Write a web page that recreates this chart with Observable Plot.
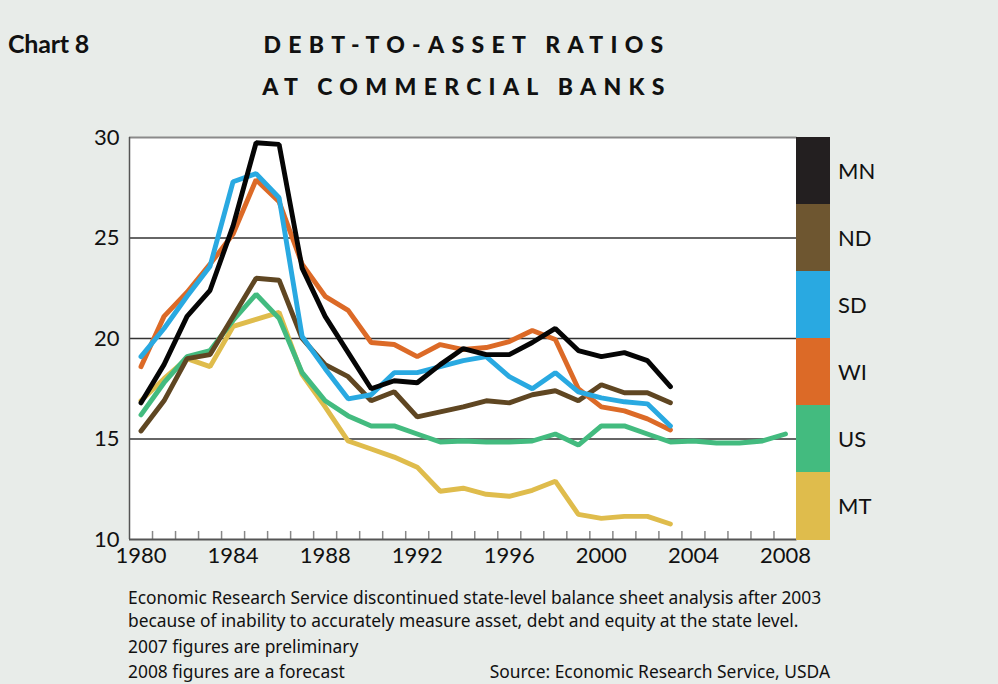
<!DOCTYPE html>
<html>
<head>
<meta charset="utf-8">
<script src="https://cdn.jsdelivr.net/npm/d3@7"></script>
<script src="https://cdn.jsdelivr.net/npm/@observablehq/plot@0.6"></script>
<style>
  html, body { margin: 0; padding: 0; background: #e8ece9; }
  #wrap { position: relative; width: 998px; height: 684px; background: #e8ece9; font-family: Lato, "Noto Sans", sans-serif; color: #111; overflow: hidden; }
  .abs { position: absolute; white-space: nowrap; }
  #chartno { left: 8px; top: 28px; font-size: 25px; font-weight: 700; letter-spacing: -0.2px; }
  .title { left: 0; width: 934px; text-align: center; font-size: 23px; font-weight: 900; letter-spacing: 7.3px; }
  #t1 { top: 30px; }
  #t2 { top: 72px; }
  #plot { position: absolute; left: 0; top: 120px; }
  .cap { left: 128px; font-size: 17.4px; line-height: 1.2; font-family: "Noto Sans", Lato, sans-serif; }
  .leg { position: absolute; left: 796px; width: 34px; }
  .legl { position: absolute; left: 838px; font-size: 22px; }
</style>
</head>
<body>
<div id="wrap">
  <div class="abs" id="chartno">Chart 8</div>
  <div class="abs title" id="t1">DEBT-TO-ASSET RATIOS</div>
  <div class="abs title" id="t2">AT COMMERCIAL BANKS</div>
  <div id="plot"></div>
  <div id="legend"></div>
  <div class="abs cap" style="top:587px">Economic Research Service discontinued state-level balance sheet analysis after 2003</div>
  <div class="abs cap" style="top:610px">because of inability to accurately measure asset, debt and equity at the state level.</div>
  <div class="abs cap" style="top:636px">2007 figures are preliminary</div>
  <div class="abs cap" style="top:661px">2008 figures are a forecast</div>
  <div class="abs cap" style="top:661px; left:auto; right:168px">Source: Economic Research Service, USDA</div>
</div>
<script>
// ---- data ----
const stateYears = d3.range(1980, 2004);
const usYears = d3.range(1980, 2009);
const MN = [16.8, 18.7, 21.1, 22.4, 25.6, 29.74, 29.66, 23.5, 21.1, 19.3, 17.5, 17.9, 17.8, 18.7, 19.5, 19.2, 19.2, 19.8, 20.5, 19.4, 19.1, 19.3, 18.9, 17.6];
const ND = [15.4, 16.9, 19.0, 19.2, 21.1, 23.0, 22.9, 20.0, 18.7, 18.1, 16.9, 17.35, 16.1, 16.35, 16.6, 16.9, 16.8, 17.2, 17.4, 16.9, 17.7, 17.3, 17.3, 16.8];
const SD = [19.1, 20.5, 22.1, 23.6, 27.8, 28.2, 27.0, 20.1, 18.5, 17.0, 17.2, 18.3, 18.3, 18.6, 18.9, 19.1, 18.1, 17.5, 18.3, 17.35, 17.05, 16.85, 16.75, 15.65];
const WI = [18.6, 21.1, 22.3, 23.7, 25.2, 27.9, 26.8, 23.7, 22.1, 21.4, 19.8, 19.7, 19.1, 19.7, 19.45, 19.55, 19.85, 20.4, 19.95, 17.5, 16.6, 16.4, 16.0, 15.45];
const US = [16.2, 17.8, 19.1, 19.4, 20.9, 22.2, 21.0, 18.3, 16.9, 16.15, 15.65, 15.65, 15.25, 14.85, 14.9, 14.85, 14.85, 14.9, 15.25, 14.7, 15.65, 15.65, 15.25, 14.85, 14.9, 14.8, 14.8, 14.9, 15.25];
const MT = [16.9, 18.0, 19.0, 18.6, 20.6, 20.95, 21.3, 18.2, 16.6, 14.9, 14.5, 14.1, 13.6, 12.4, 12.55, 12.25, 12.15, 12.45, 12.9, 11.25, 11.05, 11.15, 11.15, 10.77];

const legendOrder = ["MN", "ND", "SD", "WI", "US", "MT"];
const legendColors = ["#231f20", "#6e5630", "#29a9e1", "#dc6a27", "#43bb7f", "#dfbc4c"];
const lineColors = ["#050505", "#5f4622", "#29a9e1", "#dc6a27", "#43bb7f", "#dfbc4c"];
const xTickLabels = [1980, 1984, 1988, 1992, 1996, 2000, 2004, 2008];
const yTickLabels = [10, 15, 20, 25, 30];
const gridValues = [15, 20, 25];
const minorTicks = d3.range(1980.5, 2008, 1);

// ---- table ----
const seriesMap = {MN, ND, SD, WI, US, MT};
const drawOrder = ["MT", "US", "ND", "WI", "SD", "MN"];
const rows = [];
for (const s of drawOrder) {
  const yrs = s === "US" ? usYears : stateYears;
  seriesMap[s].forEach((v, i) => rows.push({state: s, year: yrs[i], value: v}));
}

const chart = Plot.plot({
  width: 998,
  height: 450,
  marginLeft: 129,
  marginRight: 201.5,
  marginTop: 17,
  marginBottom: 31,
  style: {background: "transparent", fontFamily: "Lato, 'Noto Sans', sans-serif", fontSize: "22px", color: "#111"},
  x: {domain: [1979.5, 2008.5], axis: null},
  y: {domain: [10, 30], axis: null},
  color: {domain: legendOrder, range: lineColors},
  marks: [
    Plot.frame({fill: "white", stroke: null}),
    Plot.ruleY(gridValues, {stroke: "#333", strokeWidth: 1.3}),
    Plot.ruleY([30], {stroke: "#8a8a8a", strokeWidth: 2}),
    Plot.ruleX(minorTicks, {y1: 10, y2: 10.4, stroke: "#888", strokeWidth: 1.5}),
    Plot.ruleX([1979.5], {stroke: "#555", strokeWidth: 1.5}),
    Plot.ruleY([10], {stroke: "#555", strokeWidth: 2}),
    Plot.lineY(rows, {x: "year", y: "value", z: "state", stroke: "state", strokeWidth: 4.9, strokeLinejoin: "miter", strokeLinecap: "round"}),
    Plot.axisY(yTickLabels, {tickSize: 0, tickPadding: 10, fontSize: 22, label: null}),
    Plot.axisX(xTickLabels, {tickSize: 0, tickPadding: 8, fontSize: 22, label: null, tickFormat: "d"})
  ]
});
document.getElementById("plot").appendChild(chart);

// ---- legend (HTML) ----
const legend = document.getElementById("legend");
const top0 = 137, boxH = 402 / legendOrder.length;
legendOrder.forEach((s, i) => {
  const b = document.createElement("div");
  b.className = "leg";
  b.style.top = (top0 + i * boxH) + "px";
  b.style.height = (boxH + 0.5) + "px";
  b.style.background = legendColors[i];
  legend.appendChild(b);
  const l = document.createElement("div");
  l.className = "legl";
  l.textContent = s;
  l.style.top = (top0 + i * boxH + boxH / 2 - 14) + "px";
  legend.appendChild(l);
});
</script>
</body>
</html>
